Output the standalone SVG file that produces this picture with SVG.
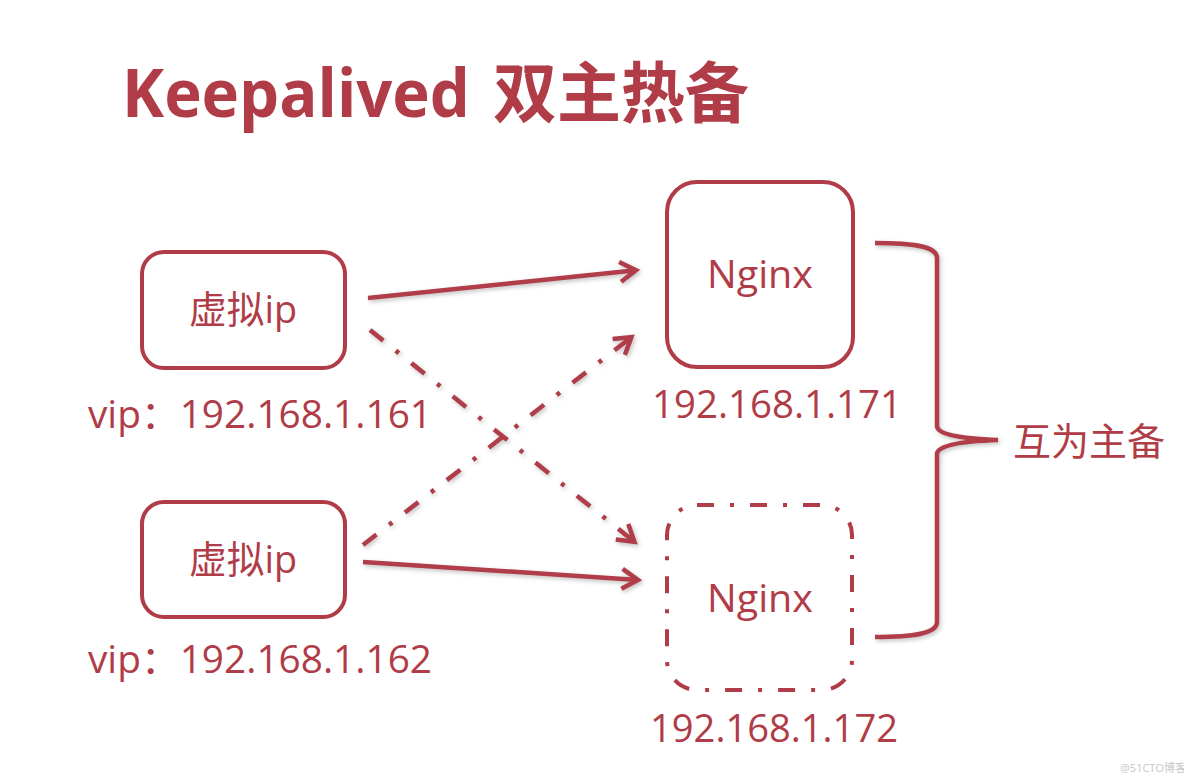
<svg xmlns="http://www.w3.org/2000/svg" width="1184" height="778" viewBox="0 0 1184 778">
<style>
.box{fill:#fff;stroke:#b03c48;stroke-width:4}
.dd{stroke-dasharray:17 16 4 16}
.lbl{fill:#b03c48;font-family:"Open Sans","Noto Sans CJK SC",sans-serif;font-size:38px}
.conn{stroke:#b03c48;stroke-width:4.5;fill:none}
</style>
<defs>
<marker id="arr" markerUnits="userSpaceOnUse" markerWidth="40" markerHeight="40" viewBox="-20 -20 40 40" refX="0" refY="0" orient="auto" overflow="visible">
<path d="M-16,-10 L0,0 L-16,10" fill="none" stroke="#b03c48" stroke-width="4.5" stroke-dasharray="none" stroke-linejoin="miter"/>
</marker>
<filter id="sh" x="-10%" y="-10%" width="120%" height="120%">
<feDropShadow dx="1.5" dy="2" stdDeviation="2" flood-color="#777" flood-opacity="0.45"/>
</filter>
</defs>
<rect width="1184" height="778" fill="#fff"/>
<g id="title">
<text x="122" y="117" fill="#b03c48" font-family="'Open Sans','Noto Sans CJK SC',sans-serif" font-weight="bold" font-size="66"><tspan textLength="348" lengthAdjust="spacingAndGlyphs">Keepalived</tspan><tspan x="493" font-family="'Noto Sans CJK SC',sans-serif" textLength="256" lengthAdjust="spacingAndGlyphs">双主热备</tspan></text>
</g>
<g id="connectors" filter="url(#sh)">
<line class="conn" x1="368" y1="298" x2="636" y2="270.2" marker-end="url(#arr)"/>
<line class="conn" x1="363" y1="562" x2="638" y2="579.9" marker-end="url(#arr)"/>
<line class="conn dd" x1="370" y1="330" x2="634.5" y2="541.8" marker-end="url(#arr)"/>
<line class="conn dd" x1="363" y1="545" x2="631.4" y2="337.2" marker-end="url(#arr)"/>
<path class="conn" stroke-width="4" d="M875,243 C912,243 937,246 937,258 L937,426 Q937,438 998,440 Q937,442 937,454 L937,622 C937,634 912,637 875,637"/>
</g>
<g id="vip1">
<rect class="box" x="142" y="252" width="203" height="116" rx="22"/>
<text class="lbl" x="243" y="323" text-anchor="middle" textLength="108" lengthAdjust="spacingAndGlyphs">虚拟ip</text>
<text class="lbl" x="88" y="428" textLength="344" lengthAdjust="spacingAndGlyphs">vip：192.168.1.161</text>
</g>
<g id="vip2">
<rect class="box" x="142" y="502" width="203" height="115" rx="22"/>
<text class="lbl" x="243" y="573" text-anchor="middle" textLength="108" lengthAdjust="spacingAndGlyphs">虚拟ip</text>
<text class="lbl" x="88" y="673" textLength="344" lengthAdjust="spacingAndGlyphs">vip：192.168.1.162</text>
</g>
<g id="nginx1">
<rect class="box" x="667" y="182" width="186" height="185" rx="30"/>
<text class="lbl" x="760" y="288" text-anchor="middle" font-size="40" textLength="106" lengthAdjust="spacingAndGlyphs">Nginx</text>
<text class="lbl" x="652" y="418" textLength="250" lengthAdjust="spacingAndGlyphs">192.168.1.171</text>
</g>
<g id="nginx2">
<rect class="box dd" x="667" y="505" width="185" height="185" rx="30"/>
<text class="lbl" x="760" y="612" text-anchor="middle" font-size="40" textLength="106" lengthAdjust="spacingAndGlyphs">Nginx</text>
<text class="lbl" x="650" y="742" textLength="248" lengthAdjust="spacingAndGlyphs">192.168.1.172</text>
</g>
<g id="label">
<text class="lbl" x="1013" y="455" textLength="152" lengthAdjust="spacingAndGlyphs">互为主备</text>
</g>
<text x="1120" y="772" fill="#c8c8c8" font-family="'Open Sans','Noto Sans CJK SC',sans-serif" font-size="11">@51CTO博客</text>
</svg>
